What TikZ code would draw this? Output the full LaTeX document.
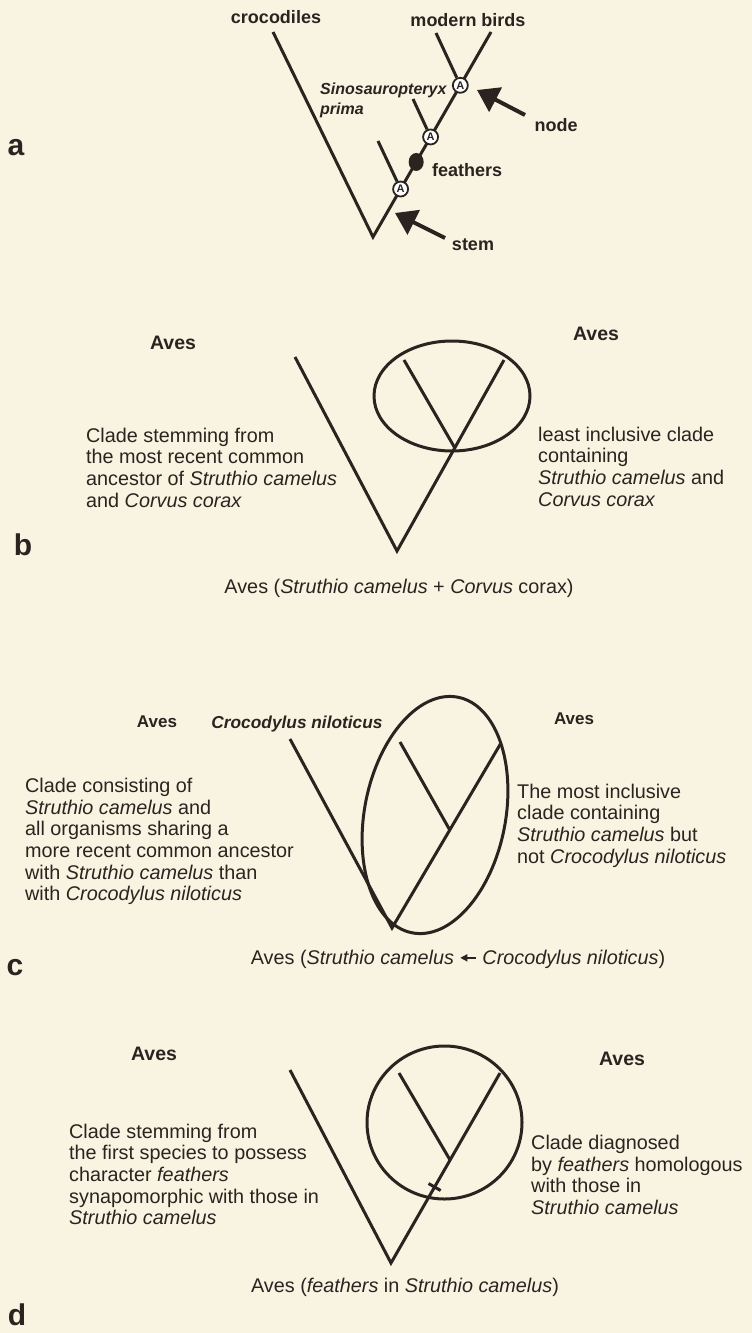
\documentclass[tikz,border=0pt]{standalone}
\usepackage{fontspec}
\setmainfont{Liberation Sans}
\usetikzlibrary{arrows.meta,calc,shapes.geometric}
\definecolor{paper}{HTML}{F8F4E1}
\definecolor{ink}{HTML}{2A2320}
\newcommand{\leftpointer}{\tikz[baseline=-0.6ex]\draw[ink, line width=1.4pt, {Triangle[length=7pt,width=7pt]}-] (0pt,0pt) -- (16pt,0pt);}

\begin{document}
\begin{tikzpicture}[x=1pt, y=-1pt,
    branch/.style={ink, line width=3pt},
    ring/.style={ellipse, draw=ink, line width=3pt, inner sep=0pt},
    lbl/.style={text=ink, inner sep=0pt, font=\fontsize{19.8}{21.7}\selectfont},
    bodytext/.style={lbl, align=left, anchor=west},
    title/.style={lbl, font=\fontsize{19.5}{22}\selectfont\bfseries},
    smalltitle/.style={lbl, font=\fontsize{17}{20}\selectfont\bfseries},
    panel/.style={lbl, font=\fontsize{30}{30}\selectfont\bfseries},
    albl/.style={lbl, font=\fontsize{18}{20}\selectfont\bfseries},
    anc/.style={circle, draw=ink, fill=white, line width=1.8pt, inner sep=0pt,
        minimum size=15pt, text=ink, font=\fontsize{11}{11}\selectfont\bfseries},
    pointer/.style={ink, line width=4pt, -{Triangle[length=21pt,width=27pt]}}]

    \fill[paper] (0,0) rectangle (752,1333);
    \useasboundingbox (0,0) rectangle (752,1333);

    % a
    \coordinate (croc) at (273,32);
    \coordinate (rootA) at (373,237);
    \coordinate (birdR) at (491,32);
    \coordinate (birdL) at (436,33);
    \coordinate (sino) at (413,99);
    \coordinate (lowA) at (378,141);
    \draw[branch] (croc) -- (rootA) -- (birdR);
    \node[anc] (A1) at ($(rootA)!0.74!(birdR)$) {A};
    \node[anc] (A2) at ($(rootA)!0.488!(birdR)$) {A};
    \node[anc] (A3) at ($(rootA)!0.234!(birdR)$) {A};
    \node[ellipse, fill=ink, inner sep=0pt, minimum width=15pt, minimum height=18pt]
        (feat) at ($(rootA)!0.366!(birdR)$) {};
    \draw[branch] (birdL) -- (A1);
    \draw[branch] (sino) -- (A2);
    \draw[branch] (lowA) -- (A3);

    \node[albl] (crocs) at (276,17) {crocodiles};
    \node[albl] (birds) at (468,20) {modern birds};
    \node[lbl, align=left, anchor=west, font=\fontsize{16}{20}\selectfont\bfseries\itshape]
        (sinoL) at (320,100) {Sinosauropteryx\\prima};
    \node[albl, anchor=west] (featL) at (432,170) {feathers};
    \node[albl] (nodeL) at (556,125) {node};
    \node[albl] (stemL) at (473,245) {stem};

    \coordinate (nodeTail) at (525,115);
    \coordinate (nodeTip) at (477,90);
    \coordinate (stemTail) at (445,238);
    \coordinate (stemTip) at (395,213);
    \draw[pointer] (nodeTail) -- (nodeTip);
    \draw[pointer] (stemTail) -- (stemTip);

    \node[panel] (panA) at (16,148) {a};

    % b
    \coordinate (outB) at (295,357);
    \coordinate (rootB) at (397,551);
    \coordinate (topB) at (504,360);
    \coordinate (inB) at (404,360);
    \draw[branch] (outB) -- (rootB) -- (topB);
    \draw[branch] (inB) -- ($(rootB)!0.54!(topB)$);
    \node[ring, minimum width=156pt, minimum height=110pt] (cladeB) at (452,396) {};

    \node[title] (avesBL) at (173,343) {Aves};
    \node[title] (avesBR) at (596,334) {Aves};
    \node[bodytext] (defBL) at (86,467.5) {Clade stemming from\\the most recent common\\ancestor of \textit{Struthio camelus}\\and \textit{Corvus corax}};
    \node[bodytext] (defBR) at (538,466.5) {least inclusive clade\\containing\\\textit{Struthio camelus} and\\\textit{Corvus corax}};
    \node[lbl] (capB) at (399,588) {Aves (\textit{Struthio camelus} + \textit{Corvus} corax)};
    \node[panel] (panB) at (23,545) {b};

    % c
    \coordinate (outC) at (290,739);
    \coordinate (rootC) at (392,928);
    \coordinate (topC) at (501,743);
    \coordinate (inC) at (400,742);
    \draw[branch] (outC) -- (rootC) -- (topC);
    \draw[branch] (inC) -- ($(rootC)!0.53!(topC)$);
    \node[ring, minimum width=141pt, minimum height=240pt, rotate=-11] (cladeC) at (435,815) {};

    \node[smalltitle] (avesCL) at (157,722) {Aves};
    \node[lbl, font=\fontsize{17.3}{20}\selectfont\bfseries\itshape] (crocC) at (297,724) {Crocodylus niloticus};
    \node[smalltitle] (avesCR) at (574,719) {Aves};
    \node[bodytext] (defCL) at (25,841.5) {Clade consisting of\\\textit{Struthio camelus} and\\all organisms sharing a\\more recent common ancestor\\with \textit{Struthio camelus} than\\with \textit{Crocodylus niloticus}};
    \node[bodytext] (defCR) at (517,825.5) {The most inclusive\\clade containing\\\textit{Struthio camelus} but\\not \textit{Crocodylus niloticus}};
    \node[lbl] (capC) at (458,959) {Aves (\textit{Struthio camelus} \leftpointer{} \textit{Crocodylus niloticus})};
    \node[panel] (panC) at (15,968) {c};

    % d
    \coordinate (outD) at (290,1070);
    \coordinate (rootD) at (391,1263);
    \coordinate (topD) at (500,1073);
    \coordinate (inD) at (399,1073);
    \coordinate (tickD) at ($(rootD)!0.4!(topD)$);
    \draw[branch] (outD) -- (rootD) -- (topD);
    \draw[branch] (inD) -- ($(rootD)!0.542!(topD)$);
    \draw[branch] ($(tickD)!7pt!90:(topD)$) -- ($(tickD)!7pt!-90:(topD)$);
    \node[ring, minimum width=155pt, minimum height=153pt] (cladeD) at (444.5,1122.5) {};

    \node[title] (avesDL) at (154,1054) {Aves};
    \node[title] (avesDR) at (622,1059) {Aves};
    \node[bodytext] (defDL) at (69,1174.5) {Clade stemming from\\the first species to possess\\character \textit{feathers}\\synapomorphic with those in\\\textit{Struthio camelus}};
    \node[bodytext] (defDR) at (531,1175) {Clade diagnosed\\by \textit{feathers} homologous\\with those in\\\textit{Struthio camelus}};
    \node[lbl] (capD) at (405,1287) {Aves (\textit{feathers} in \textit{Struthio camelus})};
    \node[panel] (panD) at (17,1315) {d};
\end{tikzpicture}
\end{document}
